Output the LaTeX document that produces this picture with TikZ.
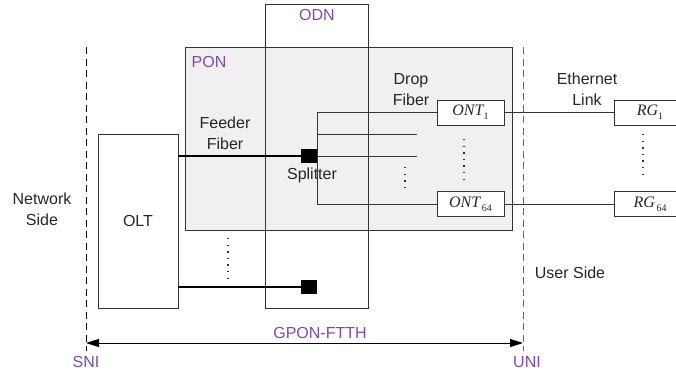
\documentclass[tikz,border=0pt]{standalone}
\usepackage{fontspec}
\setmainfont{Liberation Sans}
\newfontfamily\tnr{Liberation Serif}
\usetikzlibrary{arrows.meta}

\definecolor{ponpurple}{RGB}{128,72,176}
\definecolor{pongray}{RGB}{240,240,240}

% name of a device with its index set low and small
\newcommand{\devname}[2]{{\tnr\itshape #1}{\tnr\fontsize{10}{10}\selectfont\raisebox{-4pt}{#2}}}

\begin{document}
\begin{tikzpicture}[x=1pt, y=-1pt,
  every node/.style={font=\fontsize{16}{21}\selectfont, text=black!85},
  box/.style={draw=black!80, line width=0.8pt, inner sep=0pt},
  devbox/.style={box, fill=white, minimum width=67, minimum height=25},
  splitbox/.style={fill=black, inner sep=0pt, minimum width=16, minimum height=14},
  fiber/.style={draw=black!80, line width=0.8pt},
  feeder/.style={draw=black, line width=1.3pt},
  dotcol/.style={draw=black!80, line width=1.4pt, dash pattern=on 1.4pt off 5.2pt},
  tag/.style={text=ponpurple},
  iface/.style={line width=0.9pt, dash pattern=on 7pt off 4.5pt}]
  \useasboundingbox (0,0) rectangle (676,376);

  % ---- the PON area and the ODN column laid across it ----
  \node[box, fill=pongray, minimum width=327, minimum height=183] (pon) at (348.5,138.5) {};
  \node[box, minimum width=103, minimum height=304] (odn) at (316.5,156) {};
  \node[tag] (odnlab) at (317,15) {ODN};
  \node[tag] (ponlab) at (209,62) {PON};

  % ---- the two interfaces and the span between them ----
  \coordinate (sniTop) at (86,47);  \coordinate (sniBot) at (86,351);
  \coordinate (uniTop) at (523,47); \coordinate (uniBot) at (523,351);
  \draw[iface, black] (sniTop) -- (sniBot);
  \draw[iface, black!60] (uniTop) -- (uniBot);
  \coordinate (sniArr) at (86,343); \coordinate (uniArr) at (523,343);
  \draw[line width=0.9pt, {Triangle[length=13pt,width=8pt]}-{Triangle[length=13pt,width=8pt]}]
       (sniArr) -- (uniArr);
  \node[tag] (gpon) at (320,333) {GPON-FTTH};
  \node[tag] (sni)  at (86,362)  {SNI};
  \node[tag] (uni)  at (527,362) {UNI};
  \node[align=center] (netside)  at (42,209)  {Network\\Side};
  \node (userside) at (570,273) {User Side};

  % ---- OLT, feeders and splitters ----
  \node[box, fill=white, minimum width=80, minimum height=174] (olt) at (138,221) {OLT};
  \node[splitbox] (split1) at (309,156) {};
  \node[splitbox] (split2) at (309,287) {};
  \draw[feeder] (split1.west -| olt.east) -- (split1.west);
  \draw[feeder] (split2.west -| olt.east) -- (split2.west);
  \node[align=center] (feedlab) at (225,133.5) {Feeder\\Fiber};
  \node (splitlab) at (312,175) {Splitter};
  \coordinate (fdotTop) at (228,238); \coordinate (fdotBot) at (228,283);
  \draw[dotcol] (fdotTop) -- (fdotBot);

  % ---- drop fibers to the ONTs ----
  \node[devbox] (ont1)  at (470.5,112.5) {\devname{ONT}{1}};
  \node[devbox] (ont64) at (470.5,204)   {\devname{ONT}{\,64}};
  \draw[fiber] (ont1.west) -| (split1.east) |- (ont64.west);
  \coordinate (br2) at (417,134); \coordinate (br3) at (417,156);
  \draw[fiber] (split1.east |- br2) -- (br2);
  \draw[fiber] (split1.east) -- (br3);
  \coordinate (bdotTop) at (405,167); \coordinate (bdotBot) at (405,189);
  \draw[dotcol] (bdotTop) -- (bdotBot);
  \coordinate (odotTop) at (464,139); \coordinate (odotBot) at (464,183);
  \draw[dotcol] (odotTop) -- (odotBot);
  \node[align=center] (droplab) at (411,89.5) {Drop\\Fiber};

  % ---- ethernet links to the RGs ----
  \node[devbox, minimum width=72] (rg1)  at (650,112.5) {\devname{RG}{1}\hspace{8pt}};
  \node[devbox, minimum width=72] (rg64) at (650,204)   {\devname{RG}{\,64}\hspace{8pt}};
  \draw[fiber] (ont1.east) -- (rg1.west);
  \draw[fiber] (ont64.east) -- (rg64.west);
  \coordinate (rdotTop) at (643,134); \coordinate (rdotBot) at (643,180);
  \draw[dotcol] (rdotTop) -- (rdotBot);
  \node[align=center] (ethlab) at (587,89.5) {Ethernet\\Link};
\end{tikzpicture}
\end{document}
